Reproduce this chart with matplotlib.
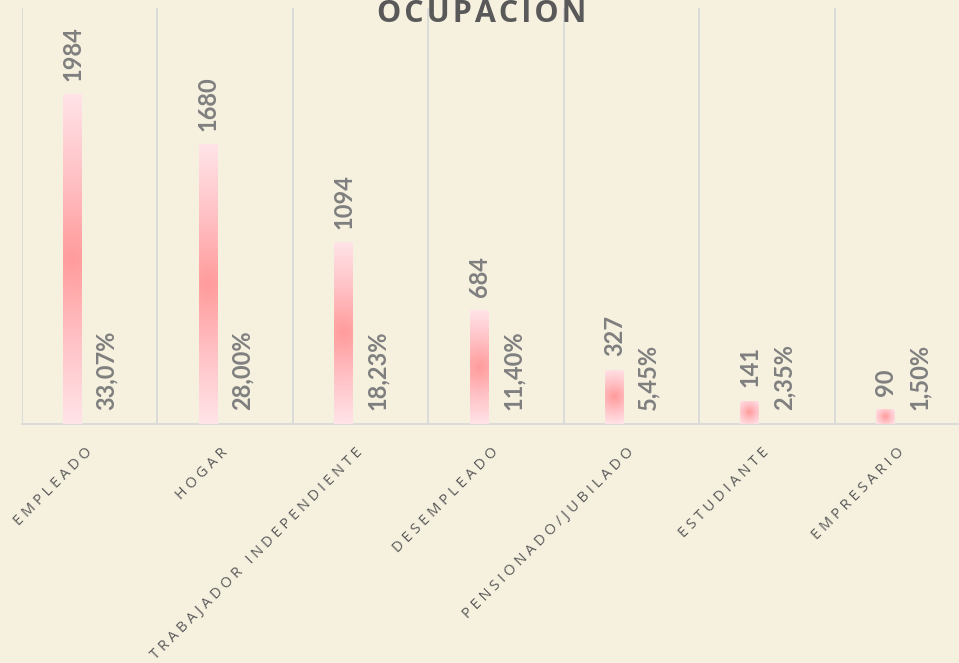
import numpy as np
import matplotlib.pyplot as plt
from matplotlib.colors import LinearSegmentedColormap

categories = ['EMPLEADO', 'HOGAR', 'TRABAJADOR INDEPENDIENTE', 'DESEMPLEADO',
              'PENSIONADO/JUBILADO', 'ESTUDIANTE', 'EMPRESARIO']
counts = [1984, 1680, 1094, 684, 327, 141, 90]
percents = [33.07, 28.00, 18.23, 11.40, 5.45, 2.35, 1.50]

bg = '#f6f1df'
label_gray = '#7f7f7f'
tick_gray = '#595959'
grid_gray = '#d9d9d9'
bar_cmap = LinearSegmentedColormap.from_list('barfill', ['#ff9b9b', '#ffc2c6', '#ffe4e8'])


def spaced(s, sep='\u2009'):
    return sep.join(s)


fig = plt.figure(figsize=(9.59, 6.63), dpi=100, facecolor=bg)
ax = fig.add_axes([22/959, 1-424/663, 948/959, 416/663])
ax.set_facecolor(bg)

x = np.arange(len(categories))
w = 0.14
off = 0.125
bars = ax.bar(x - off, counts, width=w, color='none', edgecolor='none', zorder=3)
pbars = ax.bar(x + off, np.zeros(len(percents)), width=w, color='none', edgecolor='none', zorder=3)

ax.set_xlim(-0.5, len(categories) - 0.5)
ax.set_ylim(0, 2500)

# radial gradient fill for each bar (computed in pixel space)
fig.canvas.draw()
for b in bars:
    x0, y0 = b.get_x(), b.get_y()
    bw, bh = b.get_width(), b.get_height()
    (px0, py0), (px1, py1) = ax.transData.transform([(x0, y0), (x0 + bw, y0 + bh)])
    wpx, hpx = max(px1 - px0, 1), max(py1 - py0, 1)
    nx, ny = int(wpx) + 1, int(hpx) + 1
    xx, yy = np.meshgrid(np.linspace(-wpx/2, wpx/2, nx), np.linspace(-hpx/2, hpx/2, ny))
    t = np.sqrt(xx**2 + yy**2) / np.hypot(wpx/2, hpx/2)
    im = ax.imshow(t, cmap=bar_cmap, vmin=0, vmax=1, extent=(x0, x0 + bw, y0, y0 + bh),
                   aspect='auto', interpolation='bilinear', zorder=3)
    im.set_clip_path(b)

ax.bar_label(bars, labels=[str(c) for c in counts], rotation=90, padding=9.5,
             color=label_gray, fontsize=17, fontweight='bold', family='Lato')
ax.bar_label(pbars, labels=[f'{p:.2f}%'.replace('.', ',') for p in percents], rotation=90,
             padding=10, color=label_gray, fontsize=17, fontweight='bold', family='Lato')

# category separators
ax.set_xticks(np.arange(len(categories) + 1) - 0.5, minor=True)
ax.grid(which='minor', axis='x', color=grid_gray, lw=1.3, zorder=0)
ax.tick_params(which='both', length=0)
ax.set_yticks([])
ax.set_xticks(x)
ax.set_xticklabels([spaced(c, '\u2009\u200a') for c in categories], rotation=45, ha='right',
                   va='center', rotation_mode='anchor', family='Open Sans', fontsize=10.5,
                   color=tick_gray)
ax.tick_params(axis='x', pad=19)
for s in ['top', 'right', 'left']:
    ax.spines[s].set_visible(False)
ax.spines['bottom'].set_color(grid_gray)
ax.spines['bottom'].set_linewidth(1.3)

fig.text(482/959, 1-22/663, spaced('OCUPACION', '\u200a'), ha='center', va='baseline',
         family='Open Sans', fontweight='bold', fontsize=22, color=tick_gray)

fig.savefig('out.png', dpi=100, facecolor=bg)
